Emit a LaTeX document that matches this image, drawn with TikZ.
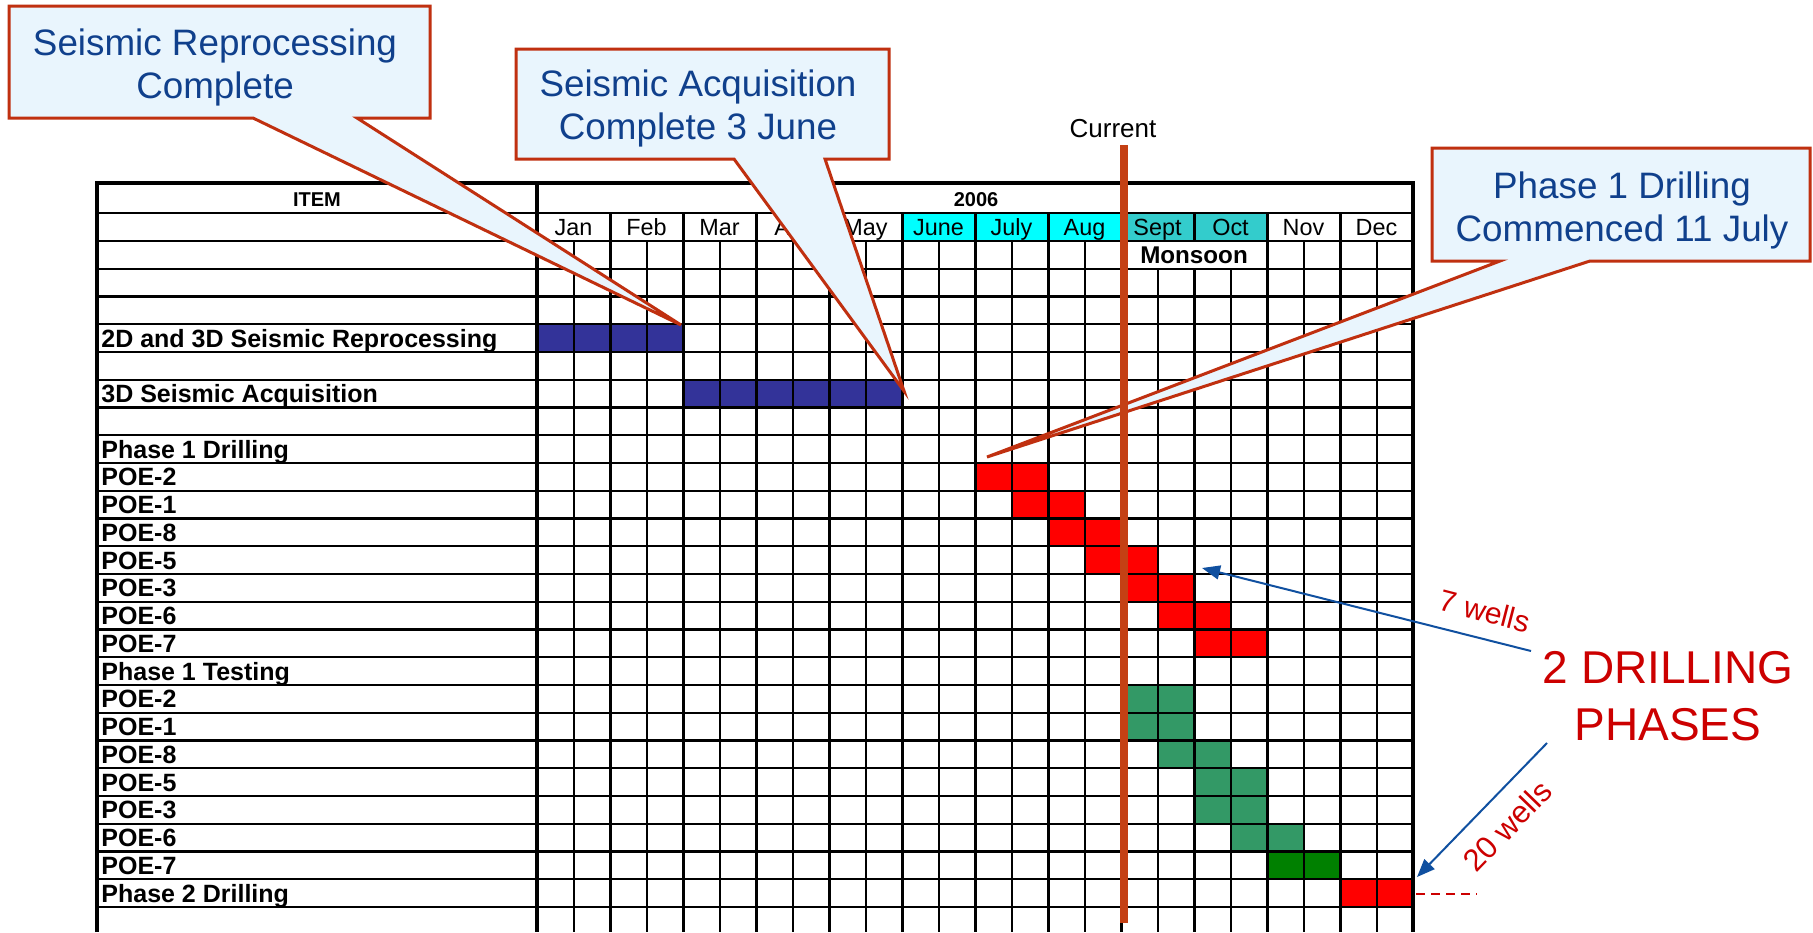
\documentclass[tikz,border=0pt]{standalone}
\usepackage{fontspec}
\setmainfont{Liberation Sans}
\usetikzlibrary{arrows.meta}
\definecolor{rust}{RGB}{192,48,16}
\definecolor{curline}{RGB}{196,64,20}
\definecolor{callfill}{RGB}{233,245,253}
\definecolor{calltext}{RGB}{16,64,140}
\definecolor{navybar}{RGB}{51,51,153}
\definecolor{redbar}{RGB}{255,0,0}
\definecolor{greenbar}{RGB}{51,153,102}
\definecolor{dgreenbar}{RGB}{0,128,0}
\definecolor{cyanhead}{RGB}{0,255,255}
\definecolor{tealhead}{RGB}{51,204,204}
\definecolor{annred}{RGB}{204,0,0}
\definecolor{arrblue}{RGB}{16,80,160}
\begin{document}
\begin{tikzpicture}[x=0.5pt,y=-0.5pt,
  callout/.style={fill=callfill,draw=rust,line width=1.5pt,line join=miter},
  calltxt/.style={text=calltext,align=center,font=\fontsize{18.4}{21.5}\selectfont,inner sep=0pt},
  itemlbl/.style={anchor=base west,font=\bfseries\fontsize{12.5}{14}\selectfont,inner sep=0pt},
  monlbl/.style={anchor=base,font=\fontsize{11.7}{14}\selectfont,inner sep=0pt},
  headlbl/.style={anchor=base,font=\bfseries\fontsize{10}{12}\selectfont,inner sep=0pt},
  hline/.style={line width=1.2pt},
  mline/.style={line width=1.5pt},
  halfline/.style={line width=1pt},
  frameline/.style={line width=2.2pt},
  arr/.style={draw=arrblue,line width=1pt,-{Triangle[length=9pt,width=7pt]}},
  annot/.style={text=annred,inner sep=0pt},
  ]
\useasboundingbox (0,0) rectangle (1813,932);
\fill[white] (0,0) rectangle (1813,932);
% table constants
\def\tabL{97}\def\tabC{537}\def\tabR{1413}\def\tabT{183}
\def\rowA{241}\def\rh{27.75}\def\mw{73}\def\hw{36.5}
% header fills
\foreach \m/\c in {5/cyanhead,6/cyanhead,7/cyanhead,8/tealhead,9/tealhead}
  \fill[\c] ({\tabC+\mw*\m},213) rectangle ++(\mw,28);
% bars
\foreach \k/\h/\n/\c in {3/0/4/navybar,5/4/6/navybar,
  8/12/2/redbar,9/13/2/redbar,10/14/2/redbar,11/15/2/redbar,12/16/2/redbar,13/17/2/redbar,14/18/2/redbar,
  16/16/2/greenbar,17/16/2/greenbar,18/17/2/greenbar,19/18/2/greenbar,20/18/2/greenbar,21/19/2/greenbar,
  22/20/2/dgreenbar,23/22/2/redbar}
  \fill[\c] ({\tabC+\h*\hw},{\rowA+\k*\rh}) rectangle ++({\n*\hw},\rh);
% horizontal lines
\draw[hline] (\tabL,213) -- (\tabR,213);
\foreach \k in {0,...,24}
  \draw[hline] (\tabL,{\rowA+\k*\rh}) -- (\tabR,{\rowA+\k*\rh});
% month lines
\foreach \m in {1,...,8,10,11}
  \draw[mline] ({\tabC+\mw*\m},213) -- ({\tabC+\mw*\m},932);
\draw[mline] ({\tabC+\mw*9},213) -- ({\tabC+\mw*9},\rowA);
\draw[mline] ({\tabC+\mw*9},{\rowA+\rh}) -- ({\tabC+\mw*9},932);
% half-month lines
\foreach \m in {0,...,7,10,11}
  \draw[halfline] ({\tabC+\mw*\m+\hw},\rowA) -- ({\tabC+\mw*\m+\hw},932);
\foreach \m in {8,9}
  \draw[halfline] ({\tabC+\mw*\m+\hw},{\rowA+\rh}) -- ({\tabC+\mw*\m+\hw},932);
% frame
\draw[frameline] (\tabL,932) -- (\tabL,\tabT) -- (\tabR,\tabT) -- (\tabR,932);
\draw[frameline] (\tabC,\tabT) -- (\tabC,932);
% header texts
\node[headlbl] (item) at (317,206) {ITEM};
\node[headlbl] (year) at (976,206) {2006};
\foreach \m/\t in {0/Jan,1/Feb,2/Mar,3/Apr,4/May,5/June,6/July,7/Aug,8/Sept,9/Oct,10/Nov,11/Dec}
  \node[monlbl] (mon\m) at ({\tabC+\mw*\m+\hw},235.5) {\t};
\node[anchor=base,font=\bfseries\fontsize{12.1}{14}\selectfont,inner sep=0pt] (monsoon) at (1194,263.5) {Monsoon};
% item labels
\foreach \k/\t in {3/2D and 3D Seismic Reprocessing,5/3D Seismic Acquisition,7/Phase 1 Drilling,
  8/POE-2,9/POE-1,10/POE-8,11/POE-5,12/POE-3,13/POE-6,14/POE-7,15/Phase 1 Testing,
  16/POE-2,17/POE-1,18/POE-8,19/POE-5,20/POE-3,21/POE-6,22/POE-7,23/Phase 2 Drilling}
  \node[itemlbl] (lbl\k) at (101,{\rowA+(\k+0.5)*\rh+9}) {\t};
% callouts
\draw[callout] (9,6) -- (430,6) -- (430,118) -- (357,118) -- (681,325) -- (253,118) -- (9,118) -- cycle;
\node[calltxt] (c1) at (215,67) {Seismic Reprocessing\\Complete};
\draw[callout] (516,49) -- (889,49) -- (889,159) -- (825,159) -- (904,391) -- (734,159) -- (516,159) -- cycle;
\node[calltxt] (c2) at (698,108) {Seismic Acquisition\\Complete 3 June};
\draw[callout] (1432,148) -- (1810,148) -- (1810,261) -- (1590,261) -- (987,457) -- (1500,261) -- (1432,261) -- cycle;
\node[calltxt] (c3) at (1622,210) {Phase 1 Drilling\\Commenced 11 July};
% current line
\node[anchor=base,font=\fontsize{13}{15}\selectfont,inner sep=0pt] (curlbl) at (1113,137) {Current};
\coordinate (curtop) at (1124,145);
\coordinate (curbot) at (1124,923);
\draw[curline,line width=3.6pt] (curtop) -- (curbot);
% annotations
\node[annot,align=center,font=\fontsize{23}{28.5}\selectfont] (phases) at (1668,696.5) {2 DRILLING\\PHASES};
\node[annot,font=\fontsize{15}{17}\selectfont,rotate=-14.5] (w7) at (1485,611) {7 wells};
\node[annot,font=\fontsize{15.5}{17}\selectfont,rotate=46] (w20) at (1507,826) {20 wells};
\coordinate (a1s) at (1531,651);
\coordinate (a1e) at (1202,568);
\coordinate (a2s) at (1547,743);
\coordinate (a2e) at (1417,877);
\draw[arr] (a1s) -- (a1e);
\draw[arr] (a2s) -- (a2e);
\coordinate (ds) at (1416,894);
\coordinate (de) at (1477,894);
\draw[annred,line width=1pt,dash pattern=on 4.5pt off 3pt] (ds) -- (de);
\end{tikzpicture}
\end{document}
